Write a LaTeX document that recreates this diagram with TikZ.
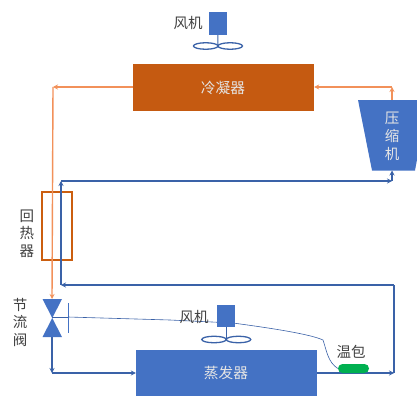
\documentclass[tikz,border=0pt]{standalone}
\usepackage{fontspec}
\setmainfont{Noto Sans CJK SC}
\usetikzlibrary{arrows.meta,shapes.geometric}
\definecolor{boxblue}{HTML}{4472C4}
\definecolor{pipeblue}{HTML}{3A62A8}
\definecolor{rust}{HTML}{C55A11}
\definecolor{pipeorange}{HTML}{F2915A}
\definecolor{bulbgreen}{HTML}{00B050}
\definecolor{ink}{HTML}{404040}
\tikzset{
  x=1pt,y=-1pt,
  tipb/.style={-{Stealth[length=5pt,width=5pt]}},
  hotpipe/.style={draw=pipeorange,line width=1.4pt,tipb},
  coldpipe/.style={draw=pipeblue,line width=1.4pt,tipb},
  lab/.style={font=\fontsize{14.5}{15}\selectfont,text=ink,inner sep=0pt},
  wlab/.style={font=\fontsize{14.7}{15}\selectfont,text=white!90!black,inner sep=0pt},
  fanbox/.style={fill=boxblue,draw=none,inner sep=0pt,minimum width=18pt,minimum height=23pt},
  blade/.style={draw=pipeblue,line width=1.3pt,fill=white,ellipse,inner sep=0pt,minimum width=24.5pt,minimum height=6.5pt},
  tri/.style={fill=boxblue,draw=none},
}
\begin{document}
\begin{tikzpicture}
\useasboundingbox (0,0) rectangle (417,396);
\clip (0,0) rectangle (417,396);
% units
\node[fill=rust,inner sep=0pt,minimum width=181pt,minimum height=47pt] (cond) at (223.5,87.5) {};
\node[wlab] (condt) at (223,88) {冷凝器};
\node[fill=boxblue,inner sep=0pt,minimum width=181pt,minimum height=46pt] (evap) at (226.5,373) {};
\node[wlab] (evapt) at (226,373) {蒸发器};
% compressor
\fill[boxblue] (358,100) -- (428,100) -- (415,170.5) -- (372,170.5) -- cycle;
\coordinate (compT) at (392,100);
\coordinate (compB) at (392,170.5);
\node[wlab,align=center,font=\fontsize{14.5}{18}\selectfont] (compt) at (392,136) {压\\缩\\机};
% recuperator
\node[draw=rust!90!orange,line width=1.4pt,inner sep=0pt,minimum width=30pt,minimum height=68pt] (rec) at (57,226) {};
% junctions
\coordinate (h1) at (392,87);
\coordinate (h2) at (53,87);
\coordinate (v0) at (52,299);
\coordinate (v1) at (52,337);
\coordinate (c0) at (52,373);
\coordinate (e1) at (394,373);
\coordinate (e2) at (394,285);
\coordinate (e3) at (61,285);
\coordinate (e4) at (61,181);
\coordinate (e5) at (392,181);
% hot pipes
\draw[hotpipe] (compT) -- (h1);
\draw[hotpipe] (h1) -- (cond.east |- h1);
\draw[hotpipe] (cond.west |- h2) -- (h2);
\draw[hotpipe] (h2) -- (v0);
% cold pipes
\draw[coldpipe] (evap.east |- e1) -- (e1);
\draw[coldpipe,-] (e1) -- (e2);
\draw[coldpipe] (e2) -- (e3);
\draw[coldpipe] (e3) -- (e4);
\draw[coldpipe] (e4) -- (e5);
\draw[coldpipe] (e5) -- (compB);
\draw[coldpipe] (v1) -- (c0);
\draw[coldpipe] (c0) -- (evap.west |- c0);
% valve
\fill[tri] (42.5,299) -- (62,299) -- (52.25,318) -- cycle;
\fill[tri] (42.5,337) -- (62,337) -- (52.25,318) -- cycle;
\coordinate (vm) at (52.25,317);
\coordinate (bar) at (68,317);
\coordinate (barT) at (68,303);
\coordinate (barB) at (68,333);
\draw[pipeblue,line width=.9pt] (vm) -- (bar);
\draw[boxblue,line width=.9pt] (barT) -- (barB);
% bulb
\node[fill=bulbgreen,draw=none,rounded corners=4.5pt,inner sep=0pt,minimum width=31pt,minimum height=9pt] (bulb) at (353.5,368.5) {};
% capillary
\draw[boxblue!85!black,line width=.6pt] (bar) -- (170,320) -- (233,323)
  .. controls (270,328) and (310,334) .. (323,340)
  .. controls (327,352) and (328,362) .. (bulb.west);
% fans
\node[fanbox] (fan1) at (217.8,23.5) {};
\node[blade] (b1l) at (205.7,46) {};
\node[blade] (b1r) at (230.2,46) {};
\draw[pipeblue,line width=1pt] (fan1.south) -- (218,46);
\node[fanbox,minimum height=22pt] (fan2) at (226,316) {};
\node[blade] (b2l) at (214,339.5) {};
\node[blade] (b2r) at (238.5,339.5) {};
\draw[pipeblue,line width=1pt] (fan2.south) -- (226,339.5);
% labels
\node[lab] (l1) at (188,23) {风机};
\node[lab] (l2) at (194,317) {风机};
\node[lab] (l3) at (351,352) {温包};
\node[lab,align=center,font=\fontsize{14.5}{17.5}\selectfont] (l4) at (27,233.5) {回\\热\\器};
\node[lab,align=center,font=\fontsize{14.5}{17.5}\selectfont] (l5) at (20,322) {节\\流\\阀};
\end{tikzpicture}
\end{document}
